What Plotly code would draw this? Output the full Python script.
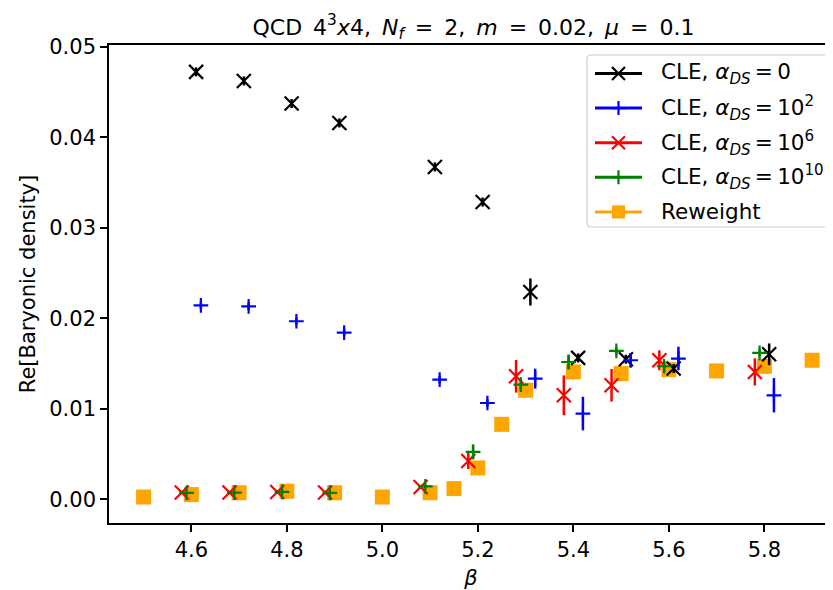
import plotly.graph_objects as go

# ---------------- data ----------------
beta_cle0 = [4.61, 4.71, 4.81, 4.91, 5.11, 5.21, 5.31, 5.41, 5.51, 5.61, 5.81]
dens_cle0 = [0.04722, 0.04622, 0.04372, 0.04158, 0.03672, 0.03284, 0.0229, 0.01562, 0.01547, 0.01444, 0.01602]
err_cle0 = [0.0005, 0.0005, 0.0005, 0.0005, 0.0005, 0.0005, 0.0015, 0.0005, 0.0005, 0.0005, 0.0012]

beta_cle2 = [4.62, 4.72, 4.82, 4.92, 5.12, 5.22, 5.32, 5.42, 5.52, 5.62, 5.82]
dens_cle2 = [0.02143, 0.02132, 0.01967, 0.01842, 0.01323, 0.01064, 0.01333, 0.00947, 0.01536, 0.01555, 0.01149]
err_cle2 = [0.0004, 0.0004, 0.0004, 0.0004, 0.0004, 0.0004, 0.0011, 0.00185, 0.0008, 0.0013, 0.0019]

beta_cle6 = [4.58, 4.68, 4.78, 4.88, 5.08, 5.18, 5.28, 5.38, 5.48, 5.58, 5.78]
dens_cle6 = [0.00074, 0.00074, 0.00081, 0.00074, 0.00135, 0.00424, 0.01359, 0.01149, 0.01259, 0.01536, 0.01407]
err_cle6 = [0.0002, 0.0002, 0.0002, 0.0002, 0.0002, 0.0009, 0.0018, 0.0022, 0.0018, 0.0011, 0.0015]

beta_cle10 = [4.59, 4.69, 4.79, 4.89, 5.09, 5.19, 5.29, 5.39, 5.49, 5.59, 5.79]
dens_cle10 = [0.0007, 0.00074, 0.00081, 0.0007, 0.00143, 0.00523, 0.01267, 0.01517, 0.01639, 0.0147, 0.01617]
err_cle10 = [0.0002, 0.0002, 0.0002, 0.0002, 0.0002, 0.0008, 0.0006, 0.0008, 0.0004, 0.0006, 0.0004]

beta_rw = [4.5, 4.6, 4.7, 4.8, 4.9, 5.0, 5.1, 5.15, 5.2, 5.25, 5.3, 5.4, 5.5, 5.6, 5.7, 5.8, 5.9]
dens_rw = [0.00025, 0.00052, 0.00072, 0.00089, 0.00072, 0.00025, 0.00072, 0.00118, 0.00346, 0.00828,
           0.01205, 0.01407, 0.01389, 0.01433, 0.01418, 0.0147, 0.01536]

TS = "\u2009"
labels = [
    "CLE, <i>α</i><sub><i>DS</i></sub>" + TS + "=" + TS + "0",
    "CLE, <i>α</i><sub><i>DS</i></sub>" + TS + "=" + TS + "10<sup>2</sup>",
    "CLE, <i>α</i><sub><i>DS</i></sub>" + TS + "=" + TS + "10<sup>6</sup>",
    "CLE, <i>α</i><sub><i>DS</i></sub>" + TS + "=" + TS + "10<sup>10</sup>",
    "Reweight",
]
SP = "\u2002"
title_text = ("QCD" + SP + "4<sup>3</sup><i>x</i>4," + SP + "<i>N</i><sub><i>f</i></sub>" + SP + "=" + SP + "2,"
              + SP + "<i>m</i>" + SP + "=" + SP + "0.02," + SP + "<i>μ</i>" + SP + "=" + SP + "0.1")

FONT = "DejaVu Sans"
FS = 21
W, H = 833, 590
# the page body adds an 8px offset; layout numbers below are figure pixels
L, R, T, B = 101, 8, 37, 75
PW, PH = W - L - R, H - T - B


def px(page_x):
    return (page_x - 8 - L) / PW


def py(page_y):
    return (H - B - (page_y - 8)) / PH


fig = go.Figure()

# reweight (drawn below CLE markers)
fig.add_trace(go.Scatter(x=beta_rw, y=dens_rw, mode="markers", showlegend=False,
                         marker=dict(symbol="square", size=15, color="#ffa500")))

series = [
    (beta_cle0, dens_cle0, err_cle0, "#000000", "x-thin", 14),
    (beta_cle2, dens_cle2, err_cle2, "#0000ff", "cross-thin", 10.5),
    (beta_cle6, dens_cle6, err_cle6, "#ff0000", "x-thin", 14),
    (beta_cle10, dens_cle10, err_cle10, "#008000", "cross-thin", 10.5),
]
for bx, dy, de, col, sym, sz in series:
    fig.add_trace(go.Scatter(
        x=bx, y=dy, mode="markers", showlegend=False,
        error_y=dict(type="data", array=de, color=col, thickness=2.5, width=0),
        marker=dict(symbol=sym, size=sz, color=col, line=dict(width=2.2, color=col)),
    ))

# ---------------- hand-drawn legend (matplotlib style) ----------------
leg_styles = [(s[3], s[4], 13 if s[4] == "x-thin" else 10) for s in series] + [("#ffa500", "square", 13)]
row0, drow = 73.5, 34.6
shapes = []
bx0, bx1, by0, by1, rr = 587, 846, 55, 227, 4
rx, ry = rr / PW, rr / PH
X0, X1, Y0, Y1 = px(bx0), px(bx1), py(by1), py(by0)
box_path = (f"M{X0 + rx},{Y1} L{X1 - rx},{Y1} Q{X1},{Y1} {X1},{Y1 - ry} L{X1},{Y0 + ry} "
            f"Q{X1},{Y0} {X1 - rx},{Y0} L{X0 + rx},{Y0} Q{X0},{Y0} {X0},{Y0 + ry} "
            f"L{X0},{Y1 - ry} Q{X0},{Y1} {X0 + rx},{Y1} Z")
shapes.append(dict(type="path", path=box_path, xref="paper", yref="paper", layer="below",
                   fillcolor="rgba(255,255,255,0.8)", line=dict(color="#cccccc", width=1.2)))
annotations = []
for i, ((col, sym, sz), lab) in enumerate(zip(leg_styles, labels)):
    yy = py(row0 + i * drow)
    shapes.append(dict(type="line", xref="paper", yref="paper", layer="below",
                       x0=px(595), x1=px(642), y0=yy, y1=yy, line=dict(color=col, width=3)))
    mk = dict(symbol=sym, size=sz, color=col)
    if sym != "square":
        mk["line"] = dict(width=2.2, color=col)
    fig.add_trace(go.Scatter(x=[px(618.5)], y=[yy], xaxis="x2", yaxis="y2", mode="markers",
                             showlegend=False, hoverinfo="skip", marker=mk))
    annotations.append(dict(text=lab, xref="paper", yref="paper", x=px(659), y=yy,
                            xanchor="left", yanchor="middle", showarrow=False,
                            font=dict(size=21.5, family=FONT, color="black")))

fig.update_layout(
    width=W, height=H,
    margin=dict(l=L, r=R, t=T, b=B),
    paper_bgcolor="white", plot_bgcolor="rgba(0,0,0,0)",
    font=dict(family=FONT, size=FS, color="black"),
    showlegend=False,
    shapes=shapes, annotations=annotations,
    title=dict(text=title_text, x=(473.5 - 8) / W, xref="container", xanchor="center",
               y=1 - (27 - 8) / H, yref="container", yanchor="middle",
               font=dict(size=22, family=FONT, color="black")),
    xaxis=dict(range=[4.4276, 5.9437], tick0=4.6, dtick=0.2, tickformat=".1f",
               showline=True, linecolor="black", linewidth=1.6, mirror=True,
               ticks="outside", ticklen=7, tickwidth=1.6, tickcolor="black",
               showgrid=False, zeroline=False, automargin=False,
               title=dict(text="<i>β</i>", standoff=9, font=dict(size=FS))),
    yaxis=dict(range=[-0.00262, 0.05019], tick0=0, dtick=0.01, tickformat=".2f",
               showline=True, linecolor="black", linewidth=1.6, mirror=False,
               ticks="outside", ticklen=7, tickwidth=1.6, tickcolor="black",
               showgrid=False, zeroline=False, automargin=False,
               title=dict(text="Re[Baryonic density]", standoff=8, font=dict(size=FS))),
    xaxis2=dict(overlaying="x", range=[0, 1], visible=False, fixedrange=True),
    yaxis2=dict(overlaying="y", range=[0, 1], visible=False, fixedrange=True),
)

fig.write_html("out.html")
